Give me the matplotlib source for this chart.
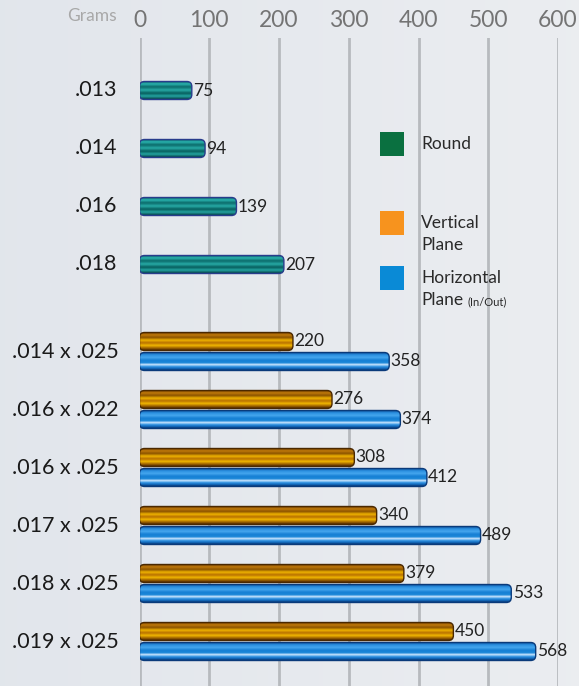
import numpy as np
import matplotlib
matplotlib.use("Agg")
import matplotlib.pyplot as plt
from matplotlib.patches import FancyBboxPatch, Rectangle

plt.rcParams['font.family'] = ['Lato', 'DejaVu Sans']

# data
round_labels = ['.013', '.014', '.016', '.018']
round_values = [75, 94, 139, 207]
rect_labels = ['.014 x .025', '.016 x .022', '.016 x .025', '.017 x .025', '.018 x .025', '.019 x .025']
vertical_values = [220, 276, 308, 340, 379, 450]
horizontal_values = [358, 374, 412, 489, 533, 568]
x_ticks = [0, 100, 200, 300, 400, 500, 600]

W, H = 579, 686
fig = plt.figure(figsize=(W / 100, H / 100), dpi=100)

# background gradient
bg = fig.add_axes([0, 0, 1, 1], zorder=0)
grad = np.linspace(0, 1, 256)[None, :]
left_c = np.array([0.886, 0.902, 0.925])
right_c = np.array([0.922, 0.930, 0.943])
img = left_c[None, None, :] * (1 - grad[..., None]) + right_c[None, None, :] * grad[..., None]
bg.imshow(img, aspect='auto', extent=[0, 1, 0, 1])
bg.set_axis_off()

# main axes, placed in pixels
x0, x1 = 139.5, 558.0
top = 38
ax = fig.add_axes([x0 / W, 0, (x1 - x0) / W, (H - top) / H], zorder=1)
ax.patch.set_alpha(0)
row_px = 58.0
first_row = 90.5
ax.set_xlim(0, 600)
ax.set_ylim((H - first_row) / row_px, -(first_row - top) / row_px)
for s in ax.spines.values():
    s.set_visible(False)
ax.xaxis.tick_top()
ax.set_xticks(x_ticks)
ax.set_xticklabels([str(t) for t in x_ticks], fontsize=16.5, color='#747474')
ax.tick_params(axis='x', length=0, pad=5)
ax.set_yticks([])
ax.grid(axis='x', color='#b7babe', lw=2)
ax.set_axisbelow(True)

# pixel scales for rounded corners
px_x = (x1 - x0) / 600.0
px_y = row_px


def stripes(stops):
    pos = np.array([p for p, c in stops])
    cols = np.array([matplotlib.colors.to_rgb(c) for p, c in stops])
    t = np.linspace(0, 1, 64)
    out = np.stack([np.interp(t, pos, cols[:, k]) for k in range(3)], axis=1)
    return out[:, None, :]


teal = stripes([(0, '#0a4f5e'), (0.15, '#2ab5b0'), (0.32, '#0b6a6a'), (0.5, '#27aaa6'),
                (0.68, '#075e5e'), (0.84, '#23a4a0'), (1, '#08494f')])
orange = stripes([(0, '#6a3a00'), (0.15, '#c27a0a'), (0.3, '#8a5200'), (0.45, '#f0b400'),
                  (0.6, '#b87000'), (0.75, '#f2b800'), (0.88, '#a86a00'), (1, '#5a3000')])
blue = stripes([(0, '#0d4f9a'), (0.15, '#2a8fe0'), (0.3, '#45a6ee'), (0.45, '#1680d4'),
                (0.6, '#1a86d8'), (0.7, '#d6ebff'), (0.8, '#3a9ae6'), (0.9, '#1470c4'), (1, '#0a3f80')])


def draw_bar(y, val, h, grad_img, edge):
    r = 5.0
    patch = FancyBboxPatch((0, y - h / 2), val, h,
                           boxstyle='round,pad=0,rounding_size=%f' % (r / px_x),
                           mutation_aspect=px_x / px_y,
                           facecolor='none', edgecolor=edge, lw=1.0, zorder=3)
    ax.add_patch(patch)
    im = ax.imshow(grad_img, aspect='auto', extent=[0, val, y + h / 2, y - h / 2],
                   zorder=2, interpolation='bilinear')
    im.set_clip_path(patch)


bar_h = 18 / row_px
label_kw = dict(va='center', ha='left', fontsize=12.5, color='#222222', zorder=4)

for i, (lab, v) in enumerate(zip(round_labels, round_values)):
    y = i
    draw_bar(y, v, bar_h, teal, '#283c8c')
    ax.text(v + 2, y, str(v), **label_kw)
    ax.text(-22 / px_x, y, lab, ha='right', va='center', fontsize=15.5, color='#1a1a1a')

off = 10 / row_px
for i, (lab, vv, hv) in enumerate(zip(rect_labels, vertical_values, horizontal_values)):
    y = 4.5 + i
    draw_bar(y - off, vv, bar_h, orange, '#4a2800')
    draw_bar(y + off, hv, bar_h, blue, '#0a3a7a')
    ax.text(vv + 2, y - off, str(vv), **label_kw)
    ax.text(hv + 2, y + off, str(hv), **label_kw)
    ax.text(-21 / px_x, y, lab, ha='right', va='center', fontsize=15.5, color='#1a1a1a')

ax.set_xlim(0, 600)
ax.set_ylim((H - first_row) / row_px, -(first_row - top) / row_px)

# "Grams" label
fig.text(117 / W, 1 - 16 / H, 'Grams', ha='right', va='center', fontsize=12.5,
         color='#a8a8a8')

# legend
legend_items = [(132, '#0a7040', ['Round'], 144),
                (211, '#f7931e', ['Vertical', 'Plane'], 223),
                (266, '#0a8ad6', ['Horizontal', 'Plane'], 278)]
for ytop, col, lines, ytext in legend_items:
    fig.patches.append(Rectangle((380 / W, 1 - (ytop + 24) / H), 24 / W, 24 / H,
                                 transform=fig.transFigure, facecolor=col, edgecolor='none', zorder=5))
    for k, line in enumerate(lines):
        fig.text(421 / W, 1 - (ytext + 22 * k) / H, line, ha='left', va='center',
                 fontsize=12.5, color='#2a2a2a', zorder=6)
fig.text(467 / W, 1 - 302 / H, '(In/Out)', ha='left', va='center', fontsize=8, color='#2a2a2a', zorder=6)

fig.savefig('out.png', dpi=100)
